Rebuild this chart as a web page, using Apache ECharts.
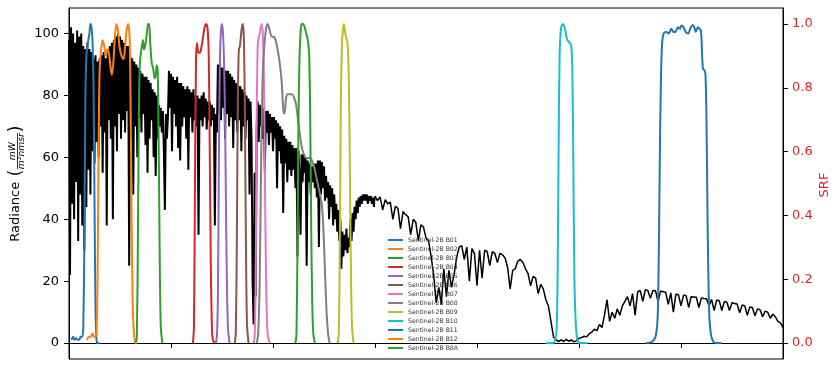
<!DOCTYPE html>
<html>
<head>
<meta charset="utf-8">
<script src="https://cdn.jsdelivr.net/npm/echarts@6/dist/echarts.min.js"></script>
<style>
  html, body { margin: 0; padding: 0; background: #fff; }
  #chart { width: 836px; height: 368px; }
</style>
</head>
<body>
<div id="chart"></div>
<script>
// Radiance spectrum, visible/near-IR part: 400–998 nm, one sample every 2 nm
const radVisStart = 400, radVisStep = 2;
const radVis = [
  98, 22, 102, 45, 100,   40, 97, 52, 101, 33,
  99, 48, 100, 38, 96,    30, 95, 44, 97, 56,
  95, 48, 94, 62, 92,     58, 93, 65, 91, 60,
  92, 70, 93, 55, 94,     68, 92, 38, 95, 72,
  96, 66, 97, 40, 98,     70, 99, 62, 100, 74,
  99, 66, 98, 72, 97,     68, 96, 75, 96, 25,
  93, 65, 92, 48, 91,     70, 90, 60, 89, 73,
  88, 68, 87, 74, 86,     64, 86, 55, 85, 66,
  84, 72, 82, 60, 81,     54, 80, 66, 77, 70,
  76, 68, 75, 62, 43,     74, 66, 73, 88, 76,
  87, 62, 86, 74, 85,     70, 86, 63, 84, 59,
  84, 70, 83, 73, 82,     66, 83, 56, 82, 73,
  81, 68, 82, 72, 80,     70, 80, 35, 79, 72,
  80, 70, 81, 73, 79,     69, 78, 72, 78, 70,
  77, 72, 76, 38, 74,     68, 90, 74, 90, 72,
  89, 76, 89, 66, 88,     74, 88, 70, 87, 73,
  86, 63, 85, 72, 84,     68, 83, 72, 83, 62,
  82, 70, 81, 66, 80,     72, 79, 48, 78, 65,
  20, 6, 55, 15, 70,      78, 65, 77, 70, 76,
  66, 76, 55, 75, 68,     75, 64, 74, 68, 73,
  62, 73, 66, 72, 50,     71, 62, 70, 58, 69,
  42, 67, 58, 66, 52,     65, 56, 65, 54, 64,
  56, 63, 50, 63, 28,     62, 54, 35, 61, 52,
  61, 55, 60, 25, 59,     52, 58, 48, 57, 52,
  58, 50, 58, 47, 59,     31, 59, 48, 58.5, 50,
  57, 46, 54, 47, 52,     40, 51, 44, 50, 38,
  48, 40, 45, 36, 43,     33, 40, 24, 36, 28,
  35, 30, 37, 29, 34,     31, 40, 33, 42, 36,
  44, 40, 46, 42, 47,     44, 47.5, 45, 48, 46,
  48, 46, 48, 45, 47.5,   46, 47.5, 45, 47, 44
];

// Radiance spectrum, SWIR part: 1000–1800 nm, one sample every 5 nm
const radNirStart = 1000, radNirStep = 5;
const radNir = [
  47.5, 46, 47.2, 43, 46.3, 45, 45.5, 40, 44.2, 43.5,
  37, 42.5, 41.5, 40.8, 35, 40, 39, 33, 38.2, 37.5,
  34, 33, 28, 22, 13, 18, 12.5, 24, 15, 23.5,
  18, 22, 27.5, 31, 31.5, 27, 31, 20, 30.5, 29,
  18.5, 30, 21, 30, 29.5, 25, 29.5, 29, 26, 29,
  28.5, 27.5, 24.5, 17.5, 23.5, 24, 26.5, 27, 26, 24,
  22.5, 18.5, 21.5, 21, 16, 19, 17.5, 14, 12, 7,
  2, 1, 0.5, 1, 0.5, 1.2, 0.6, 1, 0.4, 0.8,
  1.5, 1.8, 2.2, 2, 3, 3.5, 4.5, 4, 6, 5,
  9, 14, 7, 10, 8, 11, 9, 12, 13.5, 15,
  12, 16, 9, 16.5, 17, 13.5, 17.2, 17, 14.5, 17,
  16.9, 13.5, 16.8, 16.6, 16.4, 12.5, 16.2, 10, 15.8, 15.6,
  12, 15.5, 15.3, 11.5, 15, 14.9, 14.8, 11.5, 14.6, 14.4,
  14.3, 12, 14.1, 10.5, 13.9, 13.7, 10.5, 13.4, 13.2, 10.5,
  13, 12.8, 12.6, 9.8, 12.3, 12, 9, 11.7, 11.4, 8.8,
  11, 10.8, 8.5, 10.3, 10, 8, 9.3, 8.5, 7, 6.5,
  5
];

// Sentinel-2B spectral response functions: [wavelength nm, response]
const srfB01 = [[405,0.01],[408,0.02],[411,0.01],[414,0.015],[417,0.01],[420,0.01],[423,0.02],[426,0.02],[428,0.05],[430,0.3],[432,0.75],[434,0.9],[436,0.93],[438,0.95],[440,0.97],[442,1.0],[444,0.99],[446,0.95],[448,0.82],[450,0.45],[452,0.1],[454,0.01],[456,0.0],[459,0.0]];
const srfB02 = [[435,0.01],[439,0.02],[443,0.02],[446,0.03],[449,0.02],[452,0.02],[454,0.03],[456,0.2],[458,0.6],[460,0.85],[463,0.92],[466,0.95],[469,0.93],[472,0.9],[475,0.92],[478,0.91],[481,0.87],[484,0.84],[487,0.88],[490,0.96],[493,1.0],[496,0.98],[499,0.93],[503,0.9],[507,0.89],[510,0.93],[513,0.98],[516,1.0],[519,0.95],[521,0.7],[523,0.35],[525,0.12],[527,0.04],[530,0.0],[533,0.0]];
const srfB03 = [[531,0.0],[533,0.02],[535,0.3],[537,0.7],[539,0.88],[542,0.92],[545,0.95],[547,0.92],[549,0.93],[552,0.96],[555,1.0],[557,1.0],[559,0.95],[562,0.88],[565,0.86],[568,0.83],[570,0.84],[572,0.87],[574,0.85],[576,0.6],[578,0.25],[580,0.05],[583,0.0]];
const srfB04 = [[643,0.0],[645,0.05],[647,0.5],[649,0.88],[651,0.94],[654,0.91],[657,0.91],[660,0.93],[663,0.96],[666,0.99],[669,1.0],[672,0.98],[674,0.9],[676,0.6],[678,0.25],[680,0.06],[682,0.01],[686,0.0]];
const srfB05 = [[688,0.0],[690,0.02],[692,0.15],[694,0.6],[696,0.9],[698,0.98],[700,1.0],[702,0.97],[704,0.88],[706,0.7],[708,0.4],[710,0.15],[712,0.04],[715,0.0]];
const srfB06 = [[725,0.0],[727,0.03],[729,0.3],[731,0.75],[733,0.92],[735,0.93],[737,0.96],[739,0.99],[741,1.0],[743,0.95],[745,0.7],[747,0.3],[749,0.06],[752,0.0]];
const srfB07 = [[762,0.0],[764,0.02],[766,0.2],[768,0.7],[770,0.93],[772,0.96],[774,0.97],[776,0.99],[778,1.0],[780,0.97],[782,0.85],[784,0.55],[786,0.25],[788,0.08],[790,0.02],[794,0.0]];
const srfB08 = [[768,0.0],[771,0.03],[774,0.2],[777,0.6],[780,0.85],[783,0.93],[786,0.98],[789,1.0],[792,0.99],[795,0.97],[798,0.96],[801,0.96],[805,0.95],[809,0.92],[813,0.88],[817,0.82],[819,0.76],[821,0.72],[823,0.72],[825,0.76],[828,0.78],[832,0.78],[837,0.78],[841,0.77],[845,0.75],[849,0.7],[853,0.65],[857,0.61],[861,0.59],[865,0.58],[869,0.58],[873,0.58],[877,0.57],[881,0.55],[885,0.52],[889,0.49],[893,0.46],[896,0.43],[899,0.35],[902,0.22],[905,0.1],[908,0.03],[911,0.0]];
const srfB09 = [[927,0.0],[929,0.03],[931,0.3],[933,0.75],[935,0.93],[937,0.98],[939,1.0],[941,0.98],[943,0.96],[945,0.95],[947,0.92],[949,0.8],[951,0.5],[953,0.2],[955,0.05],[958,0.0]];
const srfB10 = [[1335,0.0],[1349,0.0],[1353,0.01],[1356,0.04],[1358,0.2],[1360,0.6],[1362,0.9],[1365,0.99],[1369,1.0],[1373,0.98],[1377,0.95],[1382,0.94],[1385,0.93],[1387,0.85],[1389,0.55],[1391,0.2],[1394,0.05],[1397,0.01],[1401,0.0],[1417,0.0]];
const srfB11 = [[1532,0.0],[1540,0.002],[1546,0.008],[1550,0.02],[1553,0.05],[1555,0.12],[1557,0.35],[1559,0.65],[1561,0.85],[1563,0.94],[1566,0.97],[1571,0.975],[1576,0.97],[1581,0.985],[1585,0.975],[1589,0.975],[1594,0.99],[1598,0.985],[1601,0.995],[1605,0.99],[1609,0.975],[1614,0.97],[1618,0.985],[1623,0.997],[1626,0.99],[1629,0.975],[1633,0.99],[1636,0.985],[1639,0.98],[1641,0.92],[1643,0.86],[1646,0.855],[1648,0.84],[1650,0.7],[1652,0.4],[1654,0.18],[1656,0.07],[1659,0.025],[1663,0.005],[1668,0.0],[1679,0.0]];
const srfB12 = [];  // B12 lies beyond the plotted wavelength range
const srfB8A = [[844,0.0],[846,0.03],[848,0.3],[850,0.7],[852,0.9],[854,0.97],[856,1.0],[859,1.0],[862,0.99],[865,0.97],[867,0.96],[869,0.94],[871,0.9],[873,0.7],[875,0.35],[877,0.12],[879,0.03],[882,0.0]];

const bandNames = ['Sentinel-2B B01','Sentinel-2B B02','Sentinel-2B B03','Sentinel-2B B04','Sentinel-2B B05','Sentinel-2B B06','Sentinel-2B B07','Sentinel-2B B08','Sentinel-2B B09','Sentinel-2B B10','Sentinel-2B B11','Sentinel-2B B12','Sentinel-2B B8A'];
const bandData = [srfB01, srfB02, srfB03, srfB04, srfB05, srfB06, srfB07, srfB08, srfB09, srfB10, srfB11, srfB12, srfB8A];
const bandColors = ['#1f77b4','#ff7f0e','#2ca02c','#d62728','#9467bd','#8c564b','#e377c2','#7f7f7f','#bcbd22','#17becf','#1f77b4','#ff7f0e','#2ca02c'];

const radianceTicks = [0, 20, 40, 60, 80, 100];
const srfTicks = [0, 0.2, 0.4, 0.6, 0.8, 1.0];
const wavelengthRange = [400, 1800];

function samplesToPairs(start, step, values) {
  return values.map((v, i) => [start + i * step, v]);
}
const radianceVisPairs = samplesToPairs(radVisStart, radVisStep, radVis);
// the SWIR trace continues from the last visible sample so the curve is unbroken
const radianceNirPairs = [radianceVisPairs[radianceVisPairs.length - 1]]
  .concat(samplesToPairs(radNirStart, radNirStep, radNir));

const FONT = '"DejaVu Sans", sans-serif';

function radianceSeries(data, width) {
  return {
    type: 'line',
    name: 'Radiance',
    xAxisIndex: 0,
    yAxisIndex: 0,
    data: data,
    symbol: 'none',
    showSymbol: false,
    lineStyle: { color: '#000', width: width, join: 'bevel' },
    silent: true,
    z: 2
  };
}

const series = [radianceSeries(radianceVisPairs, 2), radianceSeries(radianceNirPairs, 1.5)];
bandNames.forEach((name, i) => {
  series.push({
    type: 'line',
    name: name,
    xAxisIndex: 0,
    yAxisIndex: 1,
    data: bandData[i],
    symbol: 'none',
    showSymbol: false,
    smooth: 0.3,
    color: bandColors[i],
    lineStyle: { color: bandColors[i], width: 2 },
    silent: true,
    z: 3
  });
});

const chart = echarts.init(document.getElementById('chart'), null, { renderer: 'canvas' });
chart.setOption({
  animation: false,
  backgroundColor: '#fff',
  textStyle: { fontFamily: FONT },
  grid: {
    left: 69, right: 53, top: 8, bottom: 9,
    show: true, borderColor: '#000', borderWidth: 1, backgroundColor: 'transparent'
  },
  legend: {
    data: bandNames,
    orient: 'vertical',
    left: 388, top: 235.5,
    padding: 0,
    itemWidth: 15, itemHeight: 2, itemGap: 0,
    icon: 'rect',
    selectedMode: false,
    textStyle: { fontSize: 6.2, lineHeight: 9, color: '#333', fontFamily: FONT }
  },
  xAxis: {
    type: 'value',
    min: wavelengthRange[0], max: wavelengthRange[1], interval: 200,
    axisLine: { show: true, lineStyle: { color: '#000', width: 1 } },
    axisTick: { show: true, inside: false, length: 5, lineStyle: { color: '#000' } },
    axisLabel: { show: false },
    splitLine: { show: false }
  },
  yAxis: [{
    type: 'value',
    position: 'left',
    min: -5.15, max: 108.25,
    axisLine: { show: true, lineStyle: { color: '#000', width: 1 } },
    axisTick: { show: true, inside: false, length: 5, customValues: radianceTicks, lineStyle: { color: '#000' } },
    axisLabel: { customValues: radianceTicks, color: '#000', fontSize: 13, margin: 10, fontFamily: FONT },
    splitLine: { show: false }
  }, {
    type: 'value',
    position: 'right',
    min: -0.05, max: 1.05,
    axisLine: { show: true, lineStyle: { color: '#000', width: 1 } },
    axisTick: { show: true, inside: false, length: 5, customValues: srfTicks, lineStyle: { color: '#000' } },
    axisLabel: {
      customValues: srfTicks, color: '#d62728', fontSize: 13, margin: 9, fontFamily: FONT,
      formatter: v => Number(v).toFixed(1)
    },
    splitLine: { show: false }
  }],
  series: series,
  graphic: [{
    // left axis title: Radiance (mW / m²nmsr), rotated to read upwards
    type: 'group',
    x: 19.5, y: 241.7,
    rotation: Math.PI / 2,
    silent: true,
    children: [
      { type: 'text', x: 0, y: -3.9,
        style: { text: 'Radiance', font: '13px ' + FONT, fill: '#000', align: 'left', verticalAlign: 'middle', textAlign: 'left', textVerticalAlign: 'middle' } },
      { type: 'text', x: 65.5, y: -2.5,
        style: { text: '(', font: '17px ' + FONT, fill: '#000', align: 'left', verticalAlign: 'middle', textAlign: 'left', textVerticalAlign: 'middle' } },
      { type: 'text', x: 90.5, y: -6.6,
        style: { text: 'mW', font: 'italic 9.2px ' + FONT, fill: '#000', align: 'center', verticalAlign: 'middle', textAlign: 'center', textVerticalAlign: 'middle' } },
      { type: 'line', shape: { x1: 72.5, y1: -2, x2: 108.5, y2: -2 }, style: { stroke: '#000', lineWidth: 0.8 } },
      { type: 'text', x: 90.5, y: 2.4,
        style: { text: 'm\u00B2nmsr', font: 'italic 9.2px ' + FONT, fill: '#000', align: 'center', verticalAlign: 'middle', textAlign: 'center', textVerticalAlign: 'middle' } },
      { type: 'text', x: 109.5, y: -2.5,
        style: { text: ')', font: '17px ' + FONT, fill: '#000', align: 'left', verticalAlign: 'middle', textAlign: 'left', textVerticalAlign: 'middle' } }
    ]
  }, {
    // right axis title
    type: 'text',
    x: 825, y: 185,
    rotation: Math.PI / 2,
    silent: true,
    style: { text: 'SRF', font: '13px ' + FONT, fill: '#d62728', align: 'center', verticalAlign: 'middle', textAlign: 'center', textVerticalAlign: 'middle' }
  }]
});
</script>
</body>
</html>
